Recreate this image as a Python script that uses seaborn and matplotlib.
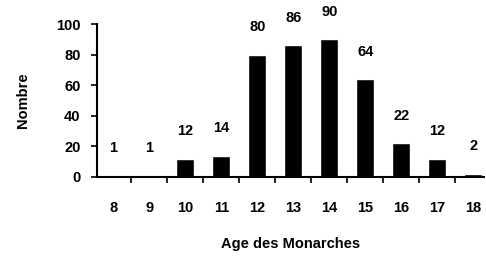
import matplotlib
matplotlib.use("Agg")
import matplotlib.pyplot as plt
import seaborn as sns
import pandas as pd

ages = ["8", "9", "10", "11", "12", "13", "14", "15", "16", "17", "18"]
nombres = [1, 1, 12, 14, 80, 86, 90, 64, 22, 12, 2]

sns.set_style("ticks")
plt.rcParams["font.family"] = ["Liberation Sans", "DejaVu Sans"]
plt.rcParams["font.weight"] = "bold"
plt.rcParams["text.color"] = "black"
plt.rcParams["axes.labelcolor"] = "black"
plt.rcParams["xtick.color"] = "black"
plt.rcParams["ytick.color"] = "black"
plt.rcParams["axes.edgecolor"] = "black"

df = pd.DataFrame({"age": ages, "nombre": nombres})

fig = plt.figure(figsize=(4.86, 2.59), dpi=100)
ax = fig.add_axes([0.2, 0.317, 0.796, 0.59])
sns.barplot(data=df, x="age", y="nombre", color="black", width=0.5,
            saturation=1, ax=ax)

for i, v in enumerate(nombres):
    ax.text(i, v + 18, str(v), ha="center", va="center", fontsize=10.5,
            fontweight="bold", clip_on=False)

ax.set_ylim(0, 100)
ax.set_xlim(-0.45, 10.3)
ax.set_yticks([0, 20, 40, 60, 80, 100])
ax.set_xticks(range(len(ages)))
ax.set_xticklabels(ages)
ax.tick_params(axis="x", length=0, pad=17, labelsize=10.5)
ax.tick_params(axis="y", length=4, width=1.2, labelsize=10.5, pad=8)
ax.set_xticks([i + 0.5 for i in range(len(ages) - 1)], minor=True)
ax.tick_params(axis="x", which="minor", length=4, width=1.2)

for side in ["top", "right"]:
    ax.spines[side].set_visible(False)
for side in ["left", "bottom"]:
    ax.spines[side].set_linewidth(1.5)

ax.set_xlabel("Age des Monarches", fontsize=10.5, fontweight="bold", labelpad=16)
ax.set_ylabel("Nombre", fontsize=10.5, fontweight="bold", labelpad=19)

fig.savefig("out.png", dpi=100)
